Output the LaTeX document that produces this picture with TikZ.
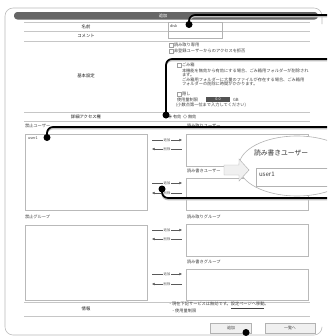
\documentclass[tikz,border=0pt]{standalone}
\usepackage{fontspec}
\setmainfont{Noto Sans CJK JP}
\usetikzlibrary{arrows.meta,shapes.geometric}

\begin{document}
\begin{tikzpicture}[
        x=0.3mm, y=-0.3mm,
        every node/.style={inner sep=0pt, outer sep=0pt},
        txt/.style={anchor=west, font=\fontsize{3.6}{4.3}\selectfont, text=black!75},
        rowlabel/.style={font=\fontsize{3.7}{4.4}\selectfont, text=black!90},
        rowline/.style={draw=gray!45, line width=0.4pt},
        field/.style={draw=gray!60, fill=white, line width=0.35pt, anchor=north west},
        listbox/.style={draw=gray!55, fill=white, line width=0.45pt, anchor=north west, minimum width=36.6mm},
        chk/.style={draw=gray!75, fill=white, line width=0.3pt, minimum size=1.05mm},
        radio/.style={circle, draw=gray!75, fill=white, line width=0.3pt, minimum size=1.1mm},
        mover/.style={draw=black!65, line width=0.45pt, -{Triangle[length=2.2pt,width=2pt]}},
        movelbl/.style={fill=white, inner xsep=0.4pt, font=\fontsize{2.8}{3}\selectfont, text=black!70},
        btn/.style={draw=gray!60, fill=gray!12, line width=0.4pt, minimum height=3mm, font=\fontsize{3.4}{4}\selectfont, text=black!75},
        pin/.style={circle, fill=black, minimum size=2.1mm},
        callout/.style={draw=black, line width=1.5pt, rounded corners=1.8mm},
        calloutshadow/.style={draw=gray!50, line width=1.1pt, rounded corners=1.8mm},
    ]
    \clip (0,0) rectangle (327,336);
    \fill[white] (0,0) rectangle (327,336);

    % panel and title bar
    \draw[gray!55, line width=0.5pt, rounded corners=2.4mm] (322,24) -- (322,8) -- (5,8) -- (5,335) -- (322,335) -- (322,327);
    \fill[gray!80!black, rounded corners=1mm] (14,12) rectangle (318,19.5);
    \node[text=white, font=\fontsize{3.6}{4}\selectfont] (title) at (163,15.8) {追加};

    \foreach \y in {22,31,41,112,121,302,316}
        \draw[rowline] (24,\y) -- (310,\y);

    % name / comment
    \node[rowlabel] (namelbl) at (86,26.5) {名前};
    \node[field, minimum width=16.2mm, minimum height=2.55mm] (namefield) at (168,22.5) {};
    \node[txt, font=\fontsize{3.2}{4}\selectfont] (nametext) at (170,26.5) {disk};
    \node[rowlabel] (commentlbl) at (86,36) {コメント};
    \node[field, minimum width=16.2mm, minimum height=2.1mm] (commentfield) at (168,31.5) {};

    % basic settings
    \node[rowlabel] (basiclbl) at (86,76) {基本設定};
    \node[chk] (chkro) at (171,45) {};
    \node[txt] (rotext) at (174,45) {読み取り専用};
    \node[chk] (chkdeny) at (171,51) {};
    \node[txt] (denytext) at (174,51) {非登録ユーザーからのアクセスを拒否};
    \node[chk] (chktrash) at (179,65) {};
    \node[txt] (trashtext) at (182,65) {ごみ箱};
    \node[txt] (trashnote1) at (182,70.5) {本機能を無効から有効にする場合、ごみ箱用フォルダーが削除され};
    \node[txt] (trashnote2) at (182,75) {ます。};
    \node[txt] (trashnote3) at (182,79.5) {ごみ箱用フォルダーに大量のファイルが存在する場合、ごみ箱用};
    \node[txt] (trashnote4) at (182,84) {フォルダーの削除に時間がかかります。};
    \node[chk] (chkhide) at (179,94) {};
    \node[txt] (hidetext) at (182,94) {隠し};
    \node[txt] (quotatext) at (177,99.5) {使用量制限};
    \node[fill=gray!65!black, text=white, minimum width=7.2mm, minimum height=1.6mm, font=\fontsize{3.2}{4}\selectfont] (quotafield) at (218,99.5) {0.0};
    \node[txt] (gbtext) at (233,99.5) {GB};
    \node[txt] (quotanote) at (176,105) {(小数点第一位まで入力してください)};

    % access rights
    \node[rowlabel] (acllbl) at (86,116.5) {詳細アクセス権};
    \node[radio] (aclon) at (170,116.5) {};
    \node[circle, fill=black!75, minimum size=0.5mm] (aclondot) at (aclon) {};
    \node[txt] (aclontext) at (173,116.5) {有効};
    \node[radio] (acloff) at (185,116.5) {};
    \node[txt] (aclofftext) at (188,116.5) {無効};

    % user and group lists
    \node[txt] (denyuserlbl) at (25,126) {禁止ユーザー};
    \node[txt] (rouserlbl) at (187,126) {読み取りユーザー};
    \node[listbox, minimum height=22.8mm] (denyusers) at (25,134) {};
    \node[txt, font=\fontsize{3.2}{4}\selectfont] (denyuser1) at (28,138) {user1};
    \node[listbox, minimum height=9.6mm] (rousers) at (186,134) {};
    \node[txt] (rwuserlbl) at (187,171) {読み書きユーザー};
    \node[listbox, minimum height=9.6mm] (rwusers) at (186,178) {};
    \node[txt] (denygrouplbl) at (25,217) {禁止グループ};
    \node[txt] (rogrouplbl) at (187,217) {読み取りグループ};
    \node[listbox, minimum height=22.5mm] (denygroups) at (25,225) {};
    \node[listbox, minimum height=9.6mm] (rogroups) at (186,224) {};
    \node[txt] (rwgrouplbl) at (187,262) {読み書きグループ};
    \node[listbox, minimum height=9.3mm] (rwgroups) at (186,269) {};

    \foreach \ya/\yd [count=\i] in {140/149,183/193,230/239,274/284}{
        \coordinate (add\i-a) at (152,\ya);
        \coordinate (add\i-b) at (182,\ya);
        \coordinate (del\i-a) at (182,\yd);
        \coordinate (del\i-b) at (152,\yd);
        \draw[mover] (add\i-a) -- node[movelbl]{追加} (add\i-b);
        \draw[mover] (del\i-a) -- node[movelbl]{削除} (del\i-b);
    }

    % info and buttons
    \node[rowlabel] (infolbl) at (86,309) {情報};
    \node[txt] (info1) at (168,305.5) {・現在下記サービスは無効です。\underline{設定ページへ移動}。};
    \node[txt] (info2) at (171,310.5) {・使用量制限};
    \node[btn, minimum width=12.3mm] (addbtn) at (231,328) {追加};
    \node[btn, minimum width=15mm] (listbtn) at (290,328) {一覧へ};

    % enlarged view
    \node[ellipse, draw=gray!60, fill=white, line width=0.5pt, minimum width=34.8mm, minimum height=18mm] (bubble) at (297,166) {};
    \node[anchor=west, font=\fontsize{5.8}{6.5}\selectfont, text=black!80] (bubbletitle) at (254,153) {読み書きユーザー};
    \node[field, minimum width=25.2mm, minimum height=5.4mm] (bubblefield) at (256,168) {};
    \node[anchor=west, font=\fontsize{5.2}{6}\selectfont, text=black!75] (bubbleuser) at (259,174.5) {user1};
    \draw[gray!60, fill=gray!12, line width=0.4pt] (224,165) -- (239,165) -- (239,159) -- (249,170) -- (239,181) -- (239,175) -- (224,175) -- cycle;

    % callouts
    \coordinate (at1) at (189,24.5);
    \coordinate (at2) at (166,115);
    \coordinate (at3) at (47,137.5);
    \coordinate (at4) at (162,189);
    \coordinate (end1) at (332,15);
    \coordinate (end2) at (332,59);
    \coordinate (end3) at (332,127);
    \coordinate (end4) at (332,198);
    \foreach \n in {1,...,4}{
        \draw[calloutshadow] ([yshift=-0.5mm]at\n) |- ([yshift=-0.5mm]end\n);
        \draw[callout] (at\n) |- (end\n);
    }
    \node[pin] (pin1) at (at1) {};
    \node[pin] (pin2) at (at2) {};
    \node[pin] (pin3) at (at3) {};
    \node[pin] (pin4) at (at4) {};
    \node[pin] (pin5) at (246,332.5) {};
\end{tikzpicture}
\end{document}
